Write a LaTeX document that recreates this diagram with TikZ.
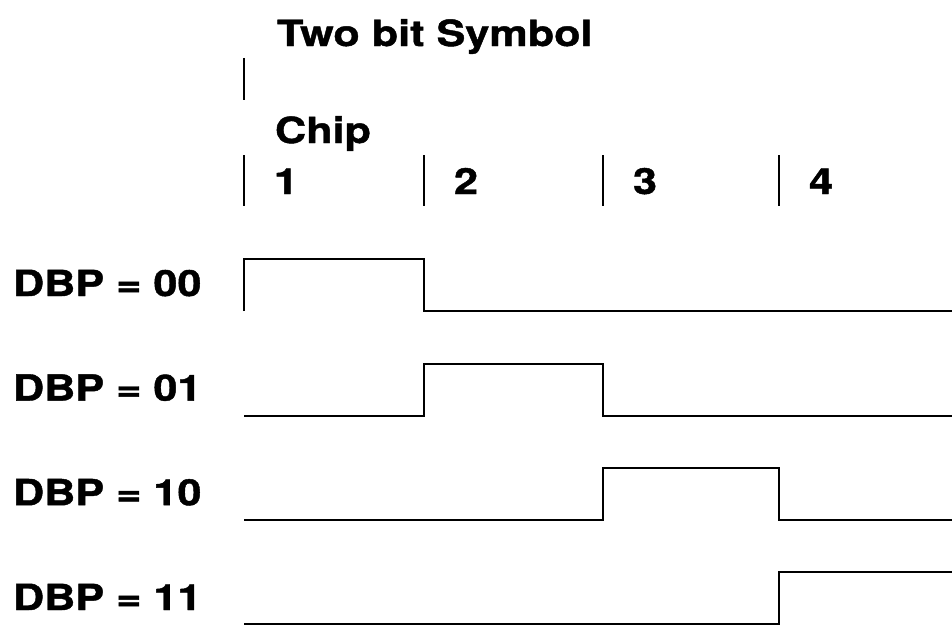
\documentclass[tikz,border=0pt]{standalone}
\usepackage{fontspec}
\setmainfont{TeX Gyre Heros}[FakeStretch=1.2,BoldFeatures={FakeBold=1.2}]
\begin{document}
\begin{tikzpicture}[x=1pt,y=-1pt,line width=2pt,
    lbl/.style={anchor=base west,inner sep=0pt,font=\fontsize{36}{40}\selectfont\bfseries}]
  \useasboundingbox (0,0) rectangle (952,626);
  % header
  \node[lbl] (sym) at (276,46) {Two bit Symbol};
  \draw (244,58)--(244,100);
  \node[lbl] (chip) at (274,143) {Chip};
  \foreach \n/\x in {1/244,2/424,3/603,4/779} {
    \draw (\x,155)--(\x,206);
    \node[lbl] (num\n) at (\x+29,194) {\n};
  }
  % chip edges
  \coordinate (e0) at (244,0);
  \coordinate (e1) at (424,0);
  \coordinate (e2) at (603,0);
  \coordinate (e3) at (779,0);
  \coordinate (e4) at (952,0);
  % waveforms
  \foreach \r/\lab/\a/\b in {0/00/e0/e1,1/01/e1/e2,2/10/e2/e3} {
    \node[lbl] (dbp\lab) at (12,296+104.6*\r) {DBP = \lab};
    \draw (e0|-0,311+104.6*\r)--(\a|-0,311+104.6*\r)--(\a|-0,259+104.6*\r)
      --(\b|-0,259+104.6*\r)--(\b|-0,311+104.6*\r)--(e4|-0,311+104.6*\r);
  }
  \node[lbl] (dbp11) at (12,610) {DBP = 11};
  \draw (e0|-0,624)--(e3|-0,624)--(e3|-0,572)--(e4|-0,572);
\end{tikzpicture}
\end{document}
